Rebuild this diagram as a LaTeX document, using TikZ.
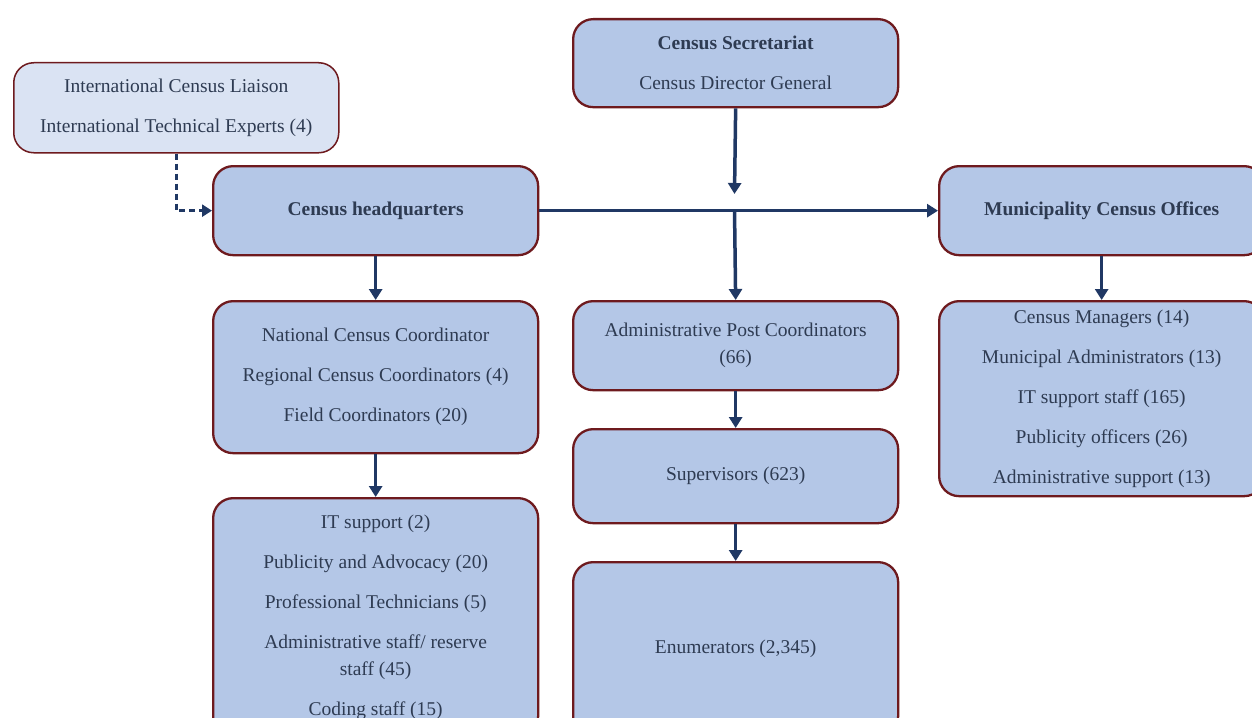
\documentclass[tikz,border=0pt]{standalone}
\usepackage{fontspec}
\setmainfont{Liberation Serif}
\usetikzlibrary{arrows.meta}
\definecolor{boxfill}{HTML}{B4C7E7}
\definecolor{lightfill}{HTML}{DAE3F3}
\definecolor{boxborder}{HTML}{6E1A1E}
\definecolor{arrowcol}{HTML}{203864}
\definecolor{txt}{HTML}{2E3B52}
\begin{document}
\begin{tikzpicture}[x=1pt,y=-1pt,
  box/.style={draw=boxborder, line width=2.3pt, fill=boxfill, rounded corners=20pt,
    minimum width=325pt, inner sep=0pt, align=center, text=txt,
    font=\fontsize{19.5}{40}\selectfont, anchor=north west},
  conn/.style={draw=arrowcol, line width=3.5pt, -{Triangle[width=13pt,length=11pt]}},
  dconn/.style={draw=arrowcol, line width=2.5pt, dash pattern=on 6pt off 4pt,
    -{Triangle[width=12pt,length=10pt]}}]
\useasboundingbox (0,0) rectangle (1252,717);
\fill[white] (0,0) rectangle (1252,717);
\clip (0,0) rectangle (1252,717);

\node[box, fill=lightfill, line width=1.5pt, minimum height=90pt] (lia) at (13,62)
  {International Census Liaison\\International Technical Experts (4)};
\node[box, minimum height=88pt] (sec) at (572,18)
  {\textbf{Census Secretariat}\\Census Director General};
\node[box, minimum height=89pt] (hq) at (212,165) {\textbf{Census headquarters}};
\node[box, minimum height=89pt] (muni) at (938,165) {\textbf{Municipality Census Offices}};
\node[box, minimum height=152pt] (ncc) at (212,300)
  {National Census Coordinator\\Regional Census Coordinators (4)\\Field Coordinators (20)};
\node[box, minimum height=89pt] (adm) at (572,300)
  {Administrative Post Coordinators\\[-13pt](66)};
\node[box, minimum height=94pt] (sup) at (572,428) {Supervisors (623)};
\node[box, minimum height=174pt] (enum) at (572,561) {Enumerators (2,345)};
\node[box, minimum height=238pt] (hqs) at (212,497)
  {IT support (2)\\Publicity and Advocacy (20)\\Professional Technicians (5)\\
   Administrative staff/ reserve\\[-13pt]staff (45)\\Coding staff (15)};
\node[box, minimum height=195pt] (mstaff) at (938,300)
  {Census Managers (14)\\Municipal Administrators (13)\\IT support staff (165)\\
   Publicity officers (26)\\Administrative support (13)};

\coordinate (j) at (734.5,209.5);
\coordinate (jtop) at (734.5,194);

\draw[conn] (sec.south) -- (jtop);
\draw[conn] (hq.east) -- (muni.west);
\draw[conn] (j) -- (adm.north);
\draw[conn] (hq.south) -- (ncc.north);
\draw[conn] (ncc.south) -- (hqs.north);
\draw[conn] (adm.south) -- (sup.north);
\draw[conn] (sup.south) -- (enum.north);
\draw[conn] (muni.south) -- (mstaff.north);
\draw[dconn] (lia.south) |- (hq.west);
\end{tikzpicture}
\end{document}
